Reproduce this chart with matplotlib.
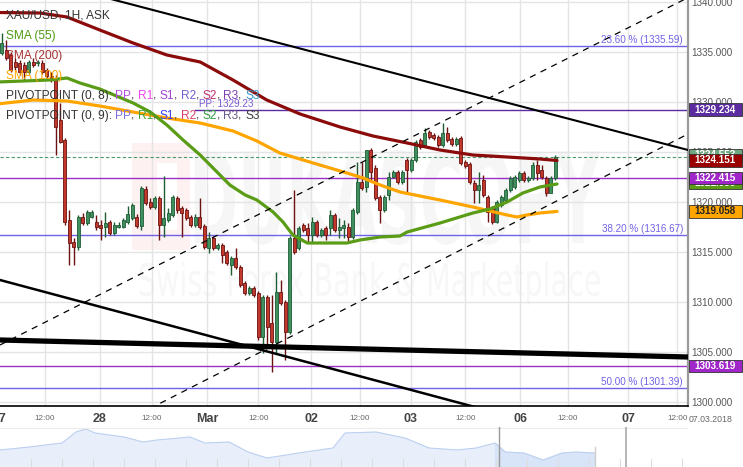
"""XAU/USD hourly candles with SMA, pivot and Fibonacci levels."""

import matplotlib

matplotlib.use("Agg")
import matplotlib.pyplot as plt
import numpy as np
from matplotlib.font_manager import FontProperties
from matplotlib.patches import PathPatch, Rectangle
from matplotlib.textpath import TextPath
from matplotlib.transforms import Affine2D

W, H = 743, 467
plt.rcParams["font.family"] = ["Liberation Sans", "DejaVu Sans"]

# ---- hourly candles (index 0 = first visible candle) ----
opens = [1334.9, 1335.2, 1334.7, 1334.0, 1333.9, 1333.7, 1333.0, 1334.0, 1333.9, 1333.9,
         1333.2, 1332.6, 1332.2, 1328.2, 1326.2, 1318.2, 1316.0, 1315.5, 1318.5, 1317.9,
         1318.5, 1318.0, 1317.7, 1317.5, 1318.0, 1316.9, 1317.5, 1317.5, 1318.0, 1318.4,
         1318.5, 1317.6, 1321.3, 1320.0, 1319.5, 1320.4, 1317.7, 1318.2, 1318.7, 1320.4,
         1319.4, 1319.2, 1318.5, 1317.7, 1318.5, 1317.6, 1315.4, 1316.4, 1315.4, 1315.7,
         1315.0, 1313.7, 1314.4, 1313.5, 1311.9, 1310.9, 1311.4, 1310.9, 1306.5, 1310.5,
         1307.9, 1306.0, 1311.0, 1310.0, 1307.0, 1316.4, 1315.4, 1317.7, 1317.4, 1316.7,
         1318.0, 1316.7, 1317.4, 1317.4, 1318.7, 1317.2, 1317.4, 1317.5, 1316.5, 1319.0,
         1322.0, 1321.5, 1325.2, 1323.4, 1320.5, 1319.2, 1320.7, 1322.5, 1323.0, 1322.0,
         1324.2, 1323.2, 1324.2, 1326.2, 1325.7, 1327.0, 1326.7, 1326.5, 1325.7, 1326.9,
         1326.3, 1325.8, 1326.4, 1324.0, 1323.8, 1321.9, 1321.2, 1322.2, 1320.5, 1319.4,
         1318.0, 1319.7, 1320.2, 1321.2, 1321.5, 1322.2, 1322.9, 1322.2, 1322.4, 1323.7,
         1323.2, 1322.4, 1320.9, 1322.4]
highs = [1336.9, 1336.2, 1335.0, 1334.4, 1334.2, 1334.0, 1334.2, 1334.4, 1334.2, 1334.2,
         1333.4, 1333.0, 1332.7, 1329.9, 1326.4, 1319.2, 1316.4, 1318.7, 1318.9, 1319.2,
         1319.2, 1318.7, 1318.2, 1319.0, 1318.2, 1318.0, 1318.0, 1318.4, 1319.6, 1319.9,
         1318.8, 1321.6, 1321.6, 1320.4, 1320.6, 1320.6, 1322.6, 1319.4, 1320.7, 1320.6,
         1319.6, 1319.4, 1318.7, 1318.8, 1320.4, 1317.8, 1317.0, 1316.6, 1315.9, 1315.9,
         1315.2, 1314.6, 1315.4, 1313.7, 1312.1, 1311.6, 1311.6, 1311.1, 1310.7, 1310.7,
         1310.7, 1313.0, 1312.2, 1310.2, 1316.6, 1321.2, 1317.6, 1317.9, 1317.9, 1318.5,
         1318.2, 1317.4, 1317.6, 1319.2, 1318.9, 1318.4, 1318.2, 1317.9, 1319.4, 1324.0,
         1324.0, 1325.2, 1325.4, 1323.7, 1320.7, 1320.7, 1323.0, 1323.2, 1323.2, 1323.2,
         1324.4, 1324.4, 1326.2, 1326.4, 1327.4, 1327.2, 1326.9, 1326.7, 1327.9, 1327.5,
         1326.5, 1326.5, 1326.6, 1324.2, 1324.0, 1322.2, 1323.0, 1322.7, 1320.7, 1319.6,
         1320.2, 1320.7, 1321.4, 1322.6, 1322.7, 1323.1, 1323.1, 1322.6, 1324.0, 1324.2,
         1323.7, 1322.6, 1322.6, 1324.7]
lows = [1334.7, 1334.2, 1333.0, 1333.2, 1332.7, 1332.2, 1332.8, 1333.5, 1333.6, 1332.8,
        1332.2, 1332.0, 1324.7, 1325.9, 1317.7, 1313.7, 1313.7, 1315.2, 1317.7, 1317.7,
        1318.4, 1317.2, 1316.2, 1316.5, 1316.7, 1316.7, 1317.4, 1317.4, 1317.8, 1318.2,
        1317.4, 1317.2, 1319.7, 1319.3, 1319.3, 1316.2, 1316.5, 1318.0, 1318.5, 1318.9,
        1316.5, 1318.2, 1317.5, 1317.5, 1317.3, 1315.3, 1314.9, 1315.2, 1315.2, 1313.9,
        1313.7, 1312.7, 1313.3, 1311.5, 1310.7, 1310.7, 1310.5, 1306.2, 1304.9, 1305.7,
        1303.0, 1304.9, 1309.7, 1304.2, 1306.8, 1314.8, 1315.2, 1317.0, 1316.0, 1315.9,
        1316.5, 1316.5, 1316.2, 1316.7, 1317.0, 1316.4, 1316.4, 1316.0, 1316.3, 1318.8,
        1321.2, 1321.0, 1322.2, 1320.2, 1317.9, 1319.0, 1320.2, 1322.4, 1321.8, 1321.8,
        1321.0, 1323.0, 1324.0, 1325.3, 1325.5, 1326.3, 1326.2, 1325.5, 1325.5, 1326.0,
        1325.6, 1325.6, 1323.7, 1323.4, 1321.8, 1319.9, 1319.9, 1320.5, 1318.0, 1317.8,
        1317.9, 1319.5, 1320.0, 1321.0, 1321.3, 1322.0, 1322.0, 1322.0, 1322.2, 1322.2,
        1322.3, 1320.6, 1321.0, 1322.2]
closes = [1335.9, 1334.4, 1333.2, 1333.5, 1333.0, 1333.0, 1334.0, 1333.7, 1334.0, 1333.0,
          1332.6, 1332.2, 1327.5, 1326.0, 1318.0, 1315.9, 1315.5, 1318.5, 1317.9, 1319.0,
          1319.0, 1317.5, 1317.4, 1317.9, 1316.9, 1317.7, 1317.7, 1318.2, 1318.8, 1319.7,
          1317.6, 1321.4, 1319.9, 1319.5, 1320.4, 1317.7, 1318.4, 1318.9, 1320.5, 1319.2,
          1318.9, 1318.4, 1317.7, 1318.5, 1317.5, 1315.5, 1316.4, 1315.4, 1315.7, 1314.7,
          1313.9, 1314.4, 1313.5, 1311.7, 1310.9, 1311.4, 1310.7, 1306.5, 1310.5, 1307.5,
          1306.0, 1311.0, 1309.9, 1307.0, 1316.4, 1315.0, 1317.4, 1317.2, 1316.7, 1318.0,
          1316.7, 1317.2, 1316.7, 1318.7, 1317.2, 1317.5, 1317.7, 1316.5, 1319.2, 1322.0,
          1321.4, 1325.2, 1323.0, 1320.4, 1319.2, 1320.5, 1322.5, 1323.0, 1322.0, 1323.0,
          1323.2, 1324.2, 1326.0, 1325.5, 1326.9, 1326.5, 1326.4, 1325.7, 1326.9, 1326.2,
          1325.8, 1326.3, 1323.9, 1323.6, 1322.0, 1321.2, 1321.7, 1320.7, 1319.0, 1318.0,
          1320.0, 1320.5, 1321.2, 1322.4, 1322.5, 1322.9, 1322.2, 1322.4, 1323.7, 1322.9,
          1322.5, 1320.9, 1322.4, 1324.5]

# ---- moving averages (candle index, price) ----
sma200_idx = [-1, 8.5, 14.5, 21.8, 29.2, 36.7, 44.1, 51.4, 58.9, 66.3, 75.2, 82.5, 90.1,
              97.4, 104.7, 112.3, 119.6, 123.4]
sma200_val = [1338.95, 1338.9, 1338.5, 1337.2, 1335.9, 1334.7, 1334.0, 1332.2, 1330.2,
              1328.8, 1327.5, 1326.6, 1325.9, 1325.2, 1324.7, 1324.5, 1324.3, 1324.15]
sma55_idx = [-1, 10.7, 14.5, 17.4, 21.8, 29.2, 33.0, 36.7, 40.3, 44.1, 47.4, 50.7, 54.1,
             56.7, 60.3, 62.5, 64.7, 67.9, 76.7, 79.6, 84.1, 88.5, 90.1, 97.4, 104.7,
             108.5, 112.3, 115.8, 119.6, 123.4]
sma55_val = [1332.0, 1332.2, 1332.4, 1331.9, 1331.3, 1329.9, 1329.0, 1327.7, 1326.2,
             1324.7, 1323.2, 1321.7, 1320.7, 1320.2, 1319.0, 1318.0, 1316.7, 1315.9,
             1315.9, 1316.2, 1316.5, 1316.6, 1317.0, 1317.9, 1318.9, 1319.3, 1320.0,
             1320.9, 1321.5, 1321.8]
sma100_idx = [-1, 7.0, 14.5, 21.8, 29.2, 36.7, 44.1, 51.4, 56.7, 61.8, 69.2, 76.7, 80.3,
              84.1, 88.5, 97.4, 104.7, 112.3, 114.5, 116.7, 119.6, 123.4]
sma100_val = [1329.8, 1330.2, 1330.1, 1329.6, 1329.0, 1328.4, 1327.9, 1327.1, 1326.1,
              1324.9, 1323.9, 1322.9, 1322.4, 1321.7, 1321.0, 1320.2, 1319.5, 1318.7,
              1318.5, 1318.7, 1318.9, 1319.06]

# ---- trend lines (start / end at the chart edges) ----
trend_x = [-0.38, 152.5]
resist_down = [1343.2, 1325.2]
support_down = [1312.2, 1293.8]
support_flat = [1306.2, 1304.5]
channel_top = [1305.7, 1340.44]
channel_bottom = [1291.7, 1326.8]

# ---- levels ----
fib_levels = [1335.59, 1316.67, 1301.39]
fib_labels = ["23.60 % (1335.59)", "38.20 % (1316.67)", "50.00 % (1301.39)"]
pivot_pp = 1329.234
pivot_pp_start = 43
pivot_levels = [1322.415, 1303.619]
last_price = 1324.55

# right-hand price tags, drawn in this order: centre, text, face colour, text colour
tag_pos = [1329.234, 1324.65, 1324.151, 1321.95, 1322.415, 1319.058, 1303.619]
tag_text = ["1329.234", "1324.553", "1324.151", "1321.955", "1322.415", "1319.058", "1303.619"]
tag_face = ["#5b2ca0", "#6fa77f", "#990000", "#5b9c17", "#a126c9", "#ffa500", "#a126c9"]
tag_color = ["white", "white", "white", "white", "white", "#222222", "white"]

price_ticks = [1300, 1305, 1310, 1315, 1320, 1325, 1330, 1335, 1340]
time_pos = [-0.6, 9.6, 21.8, 33.4, 45.6, 57.0, 68.8, 79.6, 90.9, 103.0, 115.2, 125.8,
            139.2, 150.1]
time_lab = ["27", "12:00", "28", "12:00", "Mar", "12:00", "02", "12:00", "03", "12:00",
            "06", "12:00", "07", "12:00"]

# navigator overview series
nav_x = [0, 29, 62, 76, 86, 95, 124, 143, 157, 190, 205, 229, 248, 267, 286, 305, 333,
         345, 376, 405, 429, 457, 476, 495, 505, 524, 543, 562, 576, 594]
nav_h = [17, 20, 24, 35, 38, 34, 30, 25, 27, 30, 24, 25, 15, 9, 12, 15, 19, 34, 35, 29,
         19, 17, 19, 24, 15, 14, 7, 14, 15, 14]

GREEN_FILL, GREEN_EDGE = "#3f8f5f", "#1e5c34"
RED_FILL, RED_EDGE = "#c0392b", "#6b1212"
FIB_COLOR = "#6f62e6"

fig = plt.figure(figsize=(W / 100, H / 100), dpi=100)
ax = fig.add_axes([0, 61 / H, 688 / W, 406 / H])
ax.set_xlim(trend_x)
ax.set_ylim(1299.6, 1340.2)


def watermark(text, box, color, weight):
    tp = TextPath((0, 0), text, size=1, prop=FontProperties(family="DejaVu Sans", weight=weight))
    ext = tp.get_extents()
    tr = (Affine2D().translate(-ext.x0, -ext.y0)
          .scale((box[2] - box[0]) / ext.width, (box[3] - box[1]) / ext.height)
          .translate(box[0], box[1]) + ax.transAxes)
    ax.add_patch(PathPatch(tp, transform=tr, facecolor=color, edgecolor="none", zorder=0.5))


# faint Dukascopy watermark
ax.add_patch(Rectangle((0.192, 0.384), 0.084, 0.264, transform=ax.transAxes,
                       facecolor="#fef1f1", edgecolor="none", zorder=0.4))
ax.add_patch(Rectangle((0.228, 0.434), 0.029, 0.165, transform=ax.transAxes,
                       facecolor="white", edgecolor="none", zorder=0.45))
watermark("DUKASCOPY", (0.283, 0.397, 0.872, 0.631), "#f6f6f6", "bold")
watermark("Swiss Forex Bank & Marketplace", (0.203, 0.249, 0.872, 0.355), "#f7f7f7", "normal")

# grid
ax.set_yticks(price_ticks)
ax.grid(axis="y", color="#e4e4e4", linewidth=1.0, zorder=1)
for pos in time_pos[1:]:
    ax.axvline(pos, color="#e4e4e4", linewidth=1.0, zorder=1)

# levels
for lvl, lab in zip(fib_levels, fib_labels):
    ax.axhline(lvl, color=FIB_COLOR, linewidth=1.0, zorder=2)
    ax.text(151.4, lvl + 0.12, lab, ha="right", va="bottom", fontsize=7.1, color=FIB_COLOR, zorder=9)
ax.plot([pivot_pp_start, trend_x[1]], [pivot_pp, pivot_pp], color="#5b2ca0", linewidth=1.0, zorder=2)
ax.text(pivot_pp_start + 0.8, pivot_pp + 0.1, "PP: 1329.23", ha="left", va="bottom",
        fontsize=7.1, color="#7a5ad6", zorder=9)
for lvl in pivot_levels:
    ax.axhline(lvl, color="#9b30c8", linewidth=1.0, zorder=2)
ax.axhline(last_price, color="#4c9a6a", linewidth=0.8, dashes=(3, 2), zorder=2)

# candles
o, h, l, c = map(np.asarray, (opens, highs, lows, closes))
idx = np.arange(len(o))
up = c >= o
ax.vlines(idx[up], l[up], h[up], color=GREEN_EDGE, linewidth=1.0, zorder=4)
ax.vlines(idx[~up], l[~up], h[~up], color=RED_EDGE, linewidth=1.0, zorder=4)
body = np.maximum(np.abs(c - o), 0.1)
ax.bar(idx[up], body[up], bottom=np.minimum(o, c)[up], width=0.62, color=GREEN_FILL,
       edgecolor=GREEN_EDGE, linewidth=0.6, zorder=5)
ax.bar(idx[~up], body[~up], bottom=np.minimum(o, c)[~up], width=0.62, color=RED_FILL,
       edgecolor=RED_EDGE, linewidth=0.6, zorder=5)

# moving averages
ax.plot(sma100_idx, sma100_val, color="#ffa500", linewidth=2.3, zorder=6, solid_capstyle="round")
ax.plot(sma200_idx, sma200_val, color="#8b0a0a", linewidth=2.3, zorder=6, solid_capstyle="round")
ax.plot(sma55_idx, sma55_val, color="#5b9c17", linewidth=2.3, zorder=6, solid_capstyle="round")

# trend lines
ax.plot(trend_x, resist_down, color="black", linewidth=1.5, zorder=7)
ax.plot(trend_x, support_down, color="black", linewidth=1.8, zorder=7)
ax.plot(trend_x, support_flat, color="black", linewidth=3.8, zorder=7)
ax.plot(trend_x, channel_top, color="black", linewidth=0.9, dashes=(5, 4.5), zorder=7)
ax.plot(trend_x, channel_bottom, color="black", linewidth=0.9, dashes=(5, 4.5), zorder=7)

# axes styling
for side in ("left", "top"):
    ax.spines[side].set_visible(False)
ax.spines["bottom"].set_color("black")
ax.spines["bottom"].set_linewidth(1.2)
ax.spines["right"].set_color("#9a9a9a")
ax.spines["right"].set_linewidth(1.6)
ax.yaxis.tick_right()
ax.yaxis.set_major_formatter(matplotlib.ticker.FormatStrFormatter("%.3f"))
ax.tick_params(axis="y", length=0, pad=2.5, labelsize=7.1, labelcolor="#555555")
ax.set_xticks([])

# price tags on the axis; later tags cover earlier ones
yax = ax.get_yaxis_transform()
for k, (pos, txt, face, col) in enumerate(zip(tag_pos, tag_text, tag_face, tag_color)):
    ax.add_patch(Rectangle((1.0015, pos - 0.62), 0.077, 1.24, transform=yax, facecolor=face,
                           edgecolor="#333333", linewidth=0.6, clip_on=False, zorder=10 + 2 * k))
    ax.text(1.009, pos, txt, transform=yax, ha="left", va="center", fontsize=7.1,
            fontweight="bold", color=col, clip_on=False, zorder=11 + 2 * k)

# time labels
xax = ax.get_xaxis_transform()
for pos, lab in zip(time_pos, time_lab):
    if lab == "12:00":
        ax.text(pos, -0.032, lab, transform=xax, ha="center", va="center", fontsize=5.9,
                color="#666666", clip_on=False)
    else:
        ax.text(pos, -0.032, lab, transform=xax, ha="center", va="center", fontsize=9,
                fontweight="bold", color="#444444", clip_on=False)
fig.text(689 / W, 1 - 419 / H, "07.03.2018", ha="left", va="center", fontsize=6.3, color="#666666")

# legend text, top left
fig.text(6 / W, 1 - 15 / H, "XAU/USD, 1H, ASK", fontsize=8.6, color="#333333", va="center", zorder=30)
fig.text(6 / W, 1 - 36 / H, "SMA (55)", fontsize=8.6, color="#4f9a0f", va="center", zorder=30)
fig.text(6 / W, 1 - 56 / H, "SMA (200)", fontsize=8.6, color="#a83232", va="center", zorder=30)
fig.text(6 / W, 1 - 76 / H, "SMA (100)", fontsize=8.6, color="#ffa500", va="center", zorder=30)


def chain_text(y, parts):
    t = ax.annotate(parts[0][0], xy=(6 / W, 1 - y / H), xycoords="figure fraction", fontsize=8.6,
                    color=parts[0][1], va="center", ha="left", zorder=30)
    for s, col in parts[1:]:
        t = ax.annotate(s, xy=(1, 0), xycoords=t, fontsize=8.6, color=col, va="bottom",
                        ha="left", zorder=30)


gray = "#333333"
chain_text(96, [("PIVOTPOINT (0, 8): ", gray), ("PP", "#b44ee0"), (", ", gray), ("R1", "#ee44ee"),
                (", ", gray), ("S1", "#a040d0"), (", ", gray), ("R2", "#7060d0"), (", ", gray),
                ("S2", "#c03070"), (", ", gray), ("R3", "#8040b0"), (", ", gray), ("S3", "#3399cc")])
chain_text(116, [("PIVOTPOINT (0, 9): ", gray), ("PP", "#7a6ee0"), (", ", gray), ("R1", "#40a040"),
                 (", ", gray), ("S1", "#3a3af0"), (", ", gray), ("R2", "#e0406a"), (", ", gray),
                 ("S2", "#30a040"), (", ", gray), ("R3", "#6a5a8a"), (", ", gray), ("S3", "#404040")])

# navigator strip
nav = fig.add_axes([0, 0, 688 / W, 40 / H])
nav.set_xlim(0, 688)
nav.set_ylim(0, 40)
nav.axis("off")
nx, nh = np.asarray(nav_x), np.asarray(nav_h)
nav.fill_between(nx, nh, color="#e8effb", zorder=1)
sel = nx >= 495
nav.fill_between(nx[sel], nh[sel], color="#d8e4f8", zorder=1.5)
nav.plot(nx, nh, color="#bcd0f0", linewidth=0.8, zorder=2)
nav.axhline(39.5, color="#ececec", linewidth=0.8)
for tx in np.arange(31, 688, 31):
    nav.plot([tx, tx], [0, 8], color="#dddddd", linewidth=0.8, zorder=3)
nav.plot([499, 499], [0, 40], color="#999999", linewidth=1.0, zorder=4)
nav.plot([595, 595], [0, 20], color="#cccccc", linewidth=1.0, zorder=4)
nav.plot([626, 626], [0, 40], color="#aaaaaa", linewidth=1.2, zorder=4)

fig.savefig("out.png", dpi=100)
